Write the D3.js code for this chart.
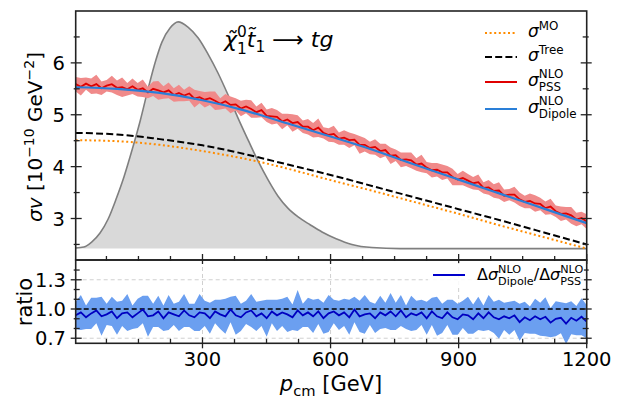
<!DOCTYPE html>
<html>
<head>
<meta charset="utf-8">
<script src="https://cdn.jsdelivr.net/npm/d3@7"></script>
<style>
  body { margin: 0; background: #fff; }
  text { font-family: "DejaVu Sans", sans-serif; fill: #000; white-space: pre; }
</style>
</head>
<body>
<svg id="chart" width="623" height="409"></svg>
<script>
// ---- data ----
var pSmooth   = [3, 100, 200, 300, 400, 500, 600, 700, 800, 900, 1000, 1100, 1200];
var sigmaMO   = [4.51, 4.49, 4.42, 4.30, 4.15, 3.96, 3.74, 3.53, 3.31, 3.09, 2.86, 2.64, 2.42];
var sigmaTree = [4.65, 4.62, 4.53, 4.41, 4.24, 4.04, 3.84, 3.62, 3.40, 3.18, 2.96, 2.73, 2.50];
var sigmaDip  = [5.53, 5.50, 5.42, 5.28, 5.08, 4.83, 4.58, 4.32, 4.03, 3.75, 3.47, 3.19, 2.91];

// momentum distribution (arbitrary units, drawn on the sigma axis)
var distP = [3, 22, 41, 60, 79, 97, 116, 135, 154, 172, 191, 205, 224, 243,
             266, 290, 313, 336, 360, 383, 407, 430, 454, 477, 500, 524, 552, 580, 613, 650, 697, 763, 1200];
var distV = [2.43, 2.45, 2.55, 2.72, 2.99, 3.36, 3.80, 4.32, 4.88, 5.48, 6.06, 6.40, 6.67, 6.79,
             6.69, 6.48, 6.17, 5.81, 5.38, 4.94, 4.51, 4.11, 3.74, 3.43, 3.20, 3.03, 2.88, 2.74, 2.61, 2.50, 2.44, 2.42, 2.42];
var distBase = 2.42;

// sampled MC points (100 bins from 3 to 1200 GeV)
var nBins = 100;
var pGrid = d3.range(nBins).map(function(i) { return 3 + i * 1197 / (nBins - 1); });

var sigmaPSS = [5.59,5.54,5.60,5.55,5.59,5.51,5.56,5.59,5.52,5.53,
                5.49,5.55,5.48,5.51,5.43,5.50,5.47,5.43,5.47,5.38,
                5.42,5.37,5.41,5.31,5.34,5.29,5.32,5.27,5.21,5.26,
                5.19,5.20,5.12,5.16,5.11,5.05,5.09,4.98,4.97,4.96,
                4.87,4.91,4.84,4.86,4.77,4.77,4.70,4.75,4.65,4.61,
                4.63,4.54,4.56,4.51,4.52,4.42,4.42,4.36,4.38,4.30,
                4.32,4.21,4.22,4.13,4.14,4.12,4.04,4.06,3.98,3.93,
                3.94,3.89,3.89,3.80,3.75,3.78,3.73,3.68,3.70,3.59,
                3.60,3.53,3.54,3.44,3.46,3.46,3.37,3.32,3.34,3.29,
                3.28,3.20,3.23,3.14,3.09,3.10,3.06,2.98,3.01,2.94];
var errPSS = [0.14,0.17,0.12,0.15,0.18,0.13,0.11,0.16,0.14,0.19,
              0.12,0.15,0.13,0.17,0.11,0.14,0.18,0.12,0.15,0.13,
              0.16,0.11,0.14,0.17,0.12,0.15,0.13,0.18,0.11,0.14,
              0.16,0.12,0.15,0.13,0.17,0.11,0.14,0.12,0.16,0.13,
              0.15,0.11,0.17,0.13,0.12,0.15,0.14,0.18,0.11,0.13,
              0.16,0.12,0.14,0.15,0.11,0.17,0.13,0.12,0.15,0.14,
              0.12,0.16,0.11,0.14,0.13,0.15,0.12,0.17,0.11,0.14,
              0.13,0.15,0.12,0.16,0.11,0.14,0.13,0.12,0.15,0.11,
              0.14,0.13,0.16,0.12,0.11,0.15,0.13,0.12,0.14,0.16,
              0.12,0.13,0.15,0.11,0.14,0.12,0.16,0.13,0.12,0.14];

var ratio = [0.935,0.965,0.915,0.955,0.985,0.925,0.945,0.975,0.905,0.955,
             0.965,0.915,0.955,0.995,0.925,0.935,0.975,0.905,0.965,0.945,
             0.925,0.985,0.935,0.915,0.965,0.955,0.905,0.975,0.945,0.925,
             0.995,0.935,0.915,0.965,0.985,0.925,0.955,0.905,0.975,0.935,
             0.965,0.945,0.915,0.985,0.935,0.965,0.925,0.975,0.905,0.955,
             0.975,0.935,0.965,0.915,0.995,0.925,0.945,0.955,0.905,0.965,
             0.935,0.975,0.925,0.985,0.915,0.955,0.935,0.965,0.905,0.975,
             0.925,0.905,0.965,0.915,0.895,0.945,0.935,0.895,0.955,0.905,
             0.965,0.915,0.895,0.925,0.905,0.935,0.865,0.915,0.885,0.925,
             0.895,0.920,0.860,0.900,0.910,0.850,0.910,0.880,0.920,0.870];
var errRatio = [0.14,0.18,0.12,0.16,0.13,0.20,0.11,0.15,0.17,0.13,
                0.19,0.12,0.15,0.14,0.21,0.12,0.16,0.13,0.18,0.11,
                0.15,0.17,0.12,0.14,0.19,0.13,0.16,0.12,0.15,0.18,
                0.13,0.20,0.14,0.12,0.17,0.15,0.13,0.19,0.12,0.16,
                0.14,0.18,0.13,0.21,0.12,0.15,0.17,0.13,0.16,0.19,
                0.12,0.15,0.14,0.18,0.13,0.16,0.20,0.12,0.15,0.17,
                0.13,0.19,0.14,0.16,0.12,0.18,0.15,0.13,0.17,0.14,
                0.20,0.15,0.13,0.18,0.16,0.14,0.19,0.15,0.17,0.13,
                0.18,0.16,0.20,0.14,0.17,0.15,0.19,0.16,0.14,0.18,
                0.17,0.20,0.15,0.18,0.16,0.21,0.17,0.15,0.19,0.17];

var xMajor = [300, 600, 900, 1200];
var xMinor = [75, 150, 225, 375, 450, 525, 675, 750, 825, 975, 1050, 1125];
var yMajor = [3, 4, 5, 6];
var yMinor = [2.5, 3.5, 4.5, 5.5, 6.5];
var rMajor = [0.7, 1.0, 1.3];
var rMinor = [0.8, 0.9, 1.1, 1.2, 1.4];

// ---- layout ----
var svg = d3.select("#chart");
var L = 75.7, R = 586.7, T = 11, M = 260, B = 343.3;

var x  = d3.scaleLinear().domain([3, 1200]).range([L, R]);
var y  = d3.scaleLinear().domain([2.2, 7.0]).range([M, T]);
var yr = d3.scaleLinear().domain([0.648, 1.503]).range([B, M]);

var defs = svg.append("defs");
defs.append("clipPath").attr("id", "clipTop").append("rect")
  .attr("x", L).attr("y", T).attr("width", R - L).attr("height", M - T);
defs.append("clipPath").attr("id", "clipBot").append("rect")
  .attr("x", L).attr("y", M).attr("width", R - L).attr("height", B - M);

// math-ish text helper: parts = [{t, it}] or {sup, sub}
function mathText(g, x0, y0, parts, size, anchor) {
  var grp = g.append("g");
  var cx = 0, small = size * 0.7;
  parts.forEach(function(p) {
    if (p.t !== undefined) {
      var el = grp.append("text").attr("x", cx).attr("y", 0)
        .style("font-size", size + "px")
        .style("font-style", p.it ? "italic" : "normal")
        .text(p.t);
      cx += el.node().getComputedTextLength();
    } else {
      var w = 0;
      if (p.sup !== undefined) {
        var s = grp.append("text").attr("x", cx).attr("y", -size * (p.sub !== undefined ? 0.45 : 0.42))
          .style("font-size", small + "px").text(p.sup);
        w = Math.max(w, s.node().getComputedTextLength());
      }
      if (p.sub !== undefined) {
        var b = grp.append("text").attr("x", cx).attr("y", size * (p.sup !== undefined ? 0.3 : 0.22))
          .style("font-size", small + "px").text(p.sub);
        w = Math.max(w, b.node().getComputedTextLength());
      }
      cx += w;
    }
  });
  var shift = anchor === "middle" ? -cx / 2 : (anchor === "end" ? -cx : 0);
  grp.attr("transform", "translate(" + (x0 + shift) + "," + y0 + ")");
  return grp;
}

// ---- top panel ----
var gTop = svg.append("g").attr("clip-path", "url(#clipTop)");

var distPts = distP.map(function(p, i) { return [p, distV[i]]; });
gTop.append("path").datum(distPts)
  .attr("d", d3.area().x(function(d) { return x(d[0]); }).y0(y(distBase)).y1(function(d) { return y(d[1]); })
    .curve(d3.curveMonotoneX))
  .attr("fill", "#d9d9d9");
gTop.append("path").datum(distPts)
  .attr("d", d3.line().x(function(d) { return x(d[0]); }).y(function(d) { return y(d[1]); }).curve(d3.curveMonotoneX))
  .attr("fill", "none").attr("stroke", "#7f7f7f").attr("stroke-width", 1.6);

var smoothLine = function(vals) {
  return d3.line().x(function(d, i) { return x(pSmooth[i]); }).y(function(d) { return y(d); })
    .curve(d3.curveNatural)(vals);
};

gTop.append("path").attr("d", smoothLine(sigmaMO))
  .attr("fill", "none").attr("stroke", "#ff8c00").attr("stroke-width", 2)
  .attr("stroke-dasharray", "2,2.6");
gTop.append("path").attr("d", smoothLine(sigmaTree))
  .attr("fill", "none").attr("stroke", "#000").attr("stroke-width", 2)
  .attr("stroke-dasharray", "7,3.2");

gTop.append("path").datum(sigmaPSS)
  .attr("d", d3.area().x(function(d, i) { return x(pGrid[i]); })
    .y0(function(d, i) { return y(d - errPSS[i]); })
    .y1(function(d, i) { return y(d + errPSS[i]); }))
  .attr("fill", "#f08a8a");
gTop.append("path").datum(sigmaPSS)
  .attr("d", d3.line().x(function(d, i) { return x(pGrid[i]); }).y(function(d) { return y(d); }))
  .attr("fill", "none").attr("stroke", "#e00000").attr("stroke-width", 1.8);
gTop.append("path").attr("d", smoothLine(sigmaDip))
  .attr("fill", "none").attr("stroke", "#2a7fd8").attr("stroke-width", 2.2);

// ---- ratio panel ----
var grid = svg.append("g");
xMajor.forEach(function(v) {
  grid.append("line").attr("x1", x(v)).attr("x2", x(v)).attr("y1", M).attr("y2", B)
    .attr("stroke", "#d0d0d0").attr("stroke-width", 1).attr("stroke-dasharray", "4,3");
});
rMajor.forEach(function(v) {
  grid.append("line").attr("x1", L).attr("x2", R).attr("y1", yr(v)).attr("y2", yr(v))
    .attr("stroke", "#d0d0d0").attr("stroke-width", 1).attr("stroke-dasharray", "4,3");
});
var gBot = svg.append("g").attr("clip-path", "url(#clipBot)");

gBot.append("path").datum(ratio)
  .attr("d", d3.area().x(function(d, i) { return x(pGrid[i]); })
    .y0(function(d, i) { return yr(d - errRatio[i]); })
    .y1(function(d, i) { return yr(d + errRatio[i]); }))
  .attr("fill", "#6b9ff0");
gBot.append("line").attr("x1", L).attr("x2", R).attr("y1", yr(1)).attr("y2", yr(1))
  .attr("stroke", "#000").attr("stroke-width", 1.4).attr("stroke-dasharray", "5,3");
gBot.append("path").datum(ratio)
  .attr("d", d3.line().x(function(d, i) { return x(pGrid[i]); }).y(function(d) { return yr(d); }))
  .attr("fill", "none").attr("stroke", "#0000c0").attr("stroke-width", 1.8);

// ---- frames and ticks ----
var axes = svg.append("g").attr("stroke", "#222").attr("fill", "none");
axes.append("rect").attr("x", L).attr("y", T).attr("width", R - L).attr("height", M - T).attr("stroke-width", 1.6);
axes.append("rect").attr("x", L).attr("y", M).attr("width", R - L).attr("height", B - M).attr("stroke-width", 1.6);

function hTicks(vals, yPos, dirIn, out, inn) {
  vals.forEach(function(v) {
    axes.append("line").attr("x1", x(v)).attr("x2", x(v))
      .attr("y1", yPos - dirIn * inn).attr("y2", yPos + dirIn * out).attr("stroke-width", 1.3);
  });
}
function vTicks(scale, vals, xPos, dirIn, out, inn) {
  vals.forEach(function(v) {
    axes.append("line").attr("y1", scale(v)).attr("y2", scale(v))
      .attr("x1", xPos + dirIn * inn).attr("x2", xPos - dirIn * out).attr("stroke-width", 1.3);
  });
}
// x ticks: bottom of top panel, bottom of ratio panel
hTicks(xMajor, M, 1, 4, 6);
hTicks(xMinor, M, 1, 1, 4);
hTicks(xMajor, B, 1, 5, 6);
hTicks(xMinor, B, 1, 0, 4.5);
// y ticks
vTicks(y, yMajor, L, 1, 5, 6);
vTicks(y, yMinor, L, 1, 2, 4);
vTicks(y, yMajor, R, -1, 5, 6);
vTicks(y, yMinor, R, -1, 2, 4);
vTicks(yr, rMajor, L, 1, 5, 6);
vTicks(yr, rMinor, L, 1, 2, 4);
vTicks(yr, rMajor, R, -1, 5, 6);
vTicks(yr, rMinor, R, -1, 2, 4);

// tick labels
var lab = svg.append("g").style("font-size", "19.5px");
yMajor.forEach(function(v) {
  lab.append("text").attr("x", 65).attr("y", y(v)).attr("dy", "0.36em")
    .attr("text-anchor", "end").text(d3.format("d")(v));
});
rMajor.forEach(function(v) {
  lab.append("text").attr("x", 66).attr("y", yr(v)).attr("dy", "0.36em")
    .attr("text-anchor", "end").text(d3.format(".1f")(v));
});
xMajor.forEach(function(v) {
  lab.append("text").attr("x", x(v)).attr("y", 366)
    .attr("text-anchor", "middle").text(v);
});

// axis labels
mathText(svg, 331, 391, [{t: "p", it: true}, {sub: "cm"}, {t: " [GeV]"}], 21, "middle");
var yl = svg.append("g").attr("transform", "translate(42,137) rotate(-90)");
mathText(yl, 0, 0, [{t: "σv", it: true}, {t: " [10"}, {sup: "−10"}, {t: " GeV"}, {sup: "−2"}, {t: "]"}], 20, "middle");
svg.append("text").attr("transform", "translate(32,302) rotate(-90)")
  .attr("text-anchor", "middle").style("font-size", "21px").text("ratio");

// process annotation
mathText(svg, 224, 47, [{t: "χ̃", it: true}, {sup: "0", sub: "1"}, {t: "t̃", it: true}, {sub: "1"},
  {t: " ⟶ "}, {t: "tg", it: true}], 22, "start");

// ---- legends ----
var legTop = [
  {lab: "MO", sub: undefined, color: "#ff8c00", dash: "2,2.6", y: 33},
  {lab: "Tree", sub: undefined, color: "#000", dash: "7,3.2", y: 57},
  {lab: "NLO", sub: "PSS", color: "#e00000", dash: null, y: 82},
  {lab: "NLO", sub: "Dipole", color: "#2a7fd8", dash: null, y: 109}
];
legTop.forEach(function(e) {
  svg.append("line").attr("x1", 485).attr("x2", 517).attr("y1", e.y).attr("y2", e.y)
    .attr("stroke", e.color).attr("stroke-width", 2).attr("stroke-dasharray", e.dash);
  mathText(svg, 528, e.y + 4, [{t: "σ", it: true}, {sup: e.lab, sub: e.sub}], 17, "start");
});

svg.append("rect").attr("x", 428).attr("y", 263).attr("width", 156).attr("height", 25)
  .attr("fill", "#fff").attr("opacity", 0.85);
svg.append("line").attr("x1", 433).attr("x2", 465).attr("y1", 275).attr("y2", 275)
  .attr("stroke", "#0000cc").attr("stroke-width", 2);
mathText(svg, 477, 280, [{t: "Δ"}, {t: "σ", it: true}, {sup: "NLO", sub: "Dipole"}, {t: "/Δ"}, {t: "σ", it: true},
  {sup: "NLO", sub: "PSS"}], 16, "start");
</script>
</body>
</html>
